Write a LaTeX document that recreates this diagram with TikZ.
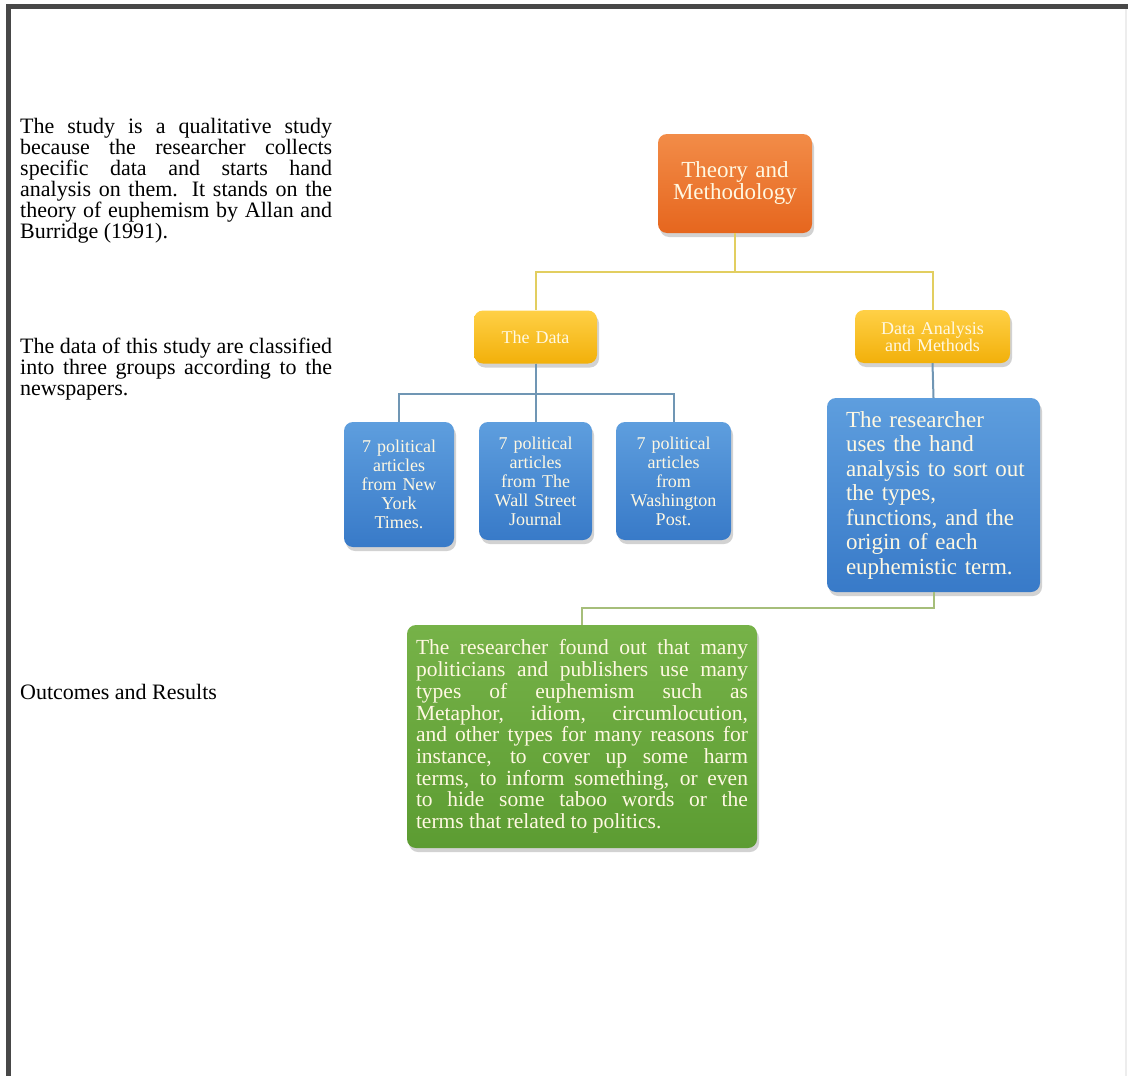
\documentclass[tikz,border=0pt]{standalone}
\usepackage{fontspec}
\setmainfont{Liberation Serif}
\usepackage{tikz}
\usetikzlibrary{shapes,shadows,positioning}
\definecolor{orangetop}{RGB}{242,140,72}
\definecolor{orangebot}{RGB}{230,102,30}
\definecolor{goldtop}{RGB}{255,208,70}
\definecolor{goldbot}{RGB}{242,176,10}
\definecolor{bluetop}{RGB}{94,158,222}
\definecolor{bluebot}{RGB}{56,122,200}
\definecolor{greentop}{RGB}{118,178,72}
\definecolor{greenbot}{RGB}{92,156,50}
\definecolor{boxtext}{RGB}{255,248,226}
\definecolor{linkgold}{RGB}{226,206,96}
\definecolor{linkblue}{RGB}{112,150,180}
\definecolor{linkgreen}{RGB}{166,190,122}
\definecolor{framegray}{RGB}{72,72,72}
\tikzstyle{box} = [rectangle, rounded corners=9pt, text=boxtext, drop shadow={shadow xshift=2pt, shadow yshift=-4pt, opacity=0.35}]
\tikzstyle{box_orange} = [box, top color=orangetop, bottom color=orangebot, text width=140pt, minimum height=99pt, inner sep=7pt, text centered, font=\fontsize{23}{22}\selectfont]
\tikzstyle{box_gold} = [box, top color=goldtop, bottom color=goldbot, minimum height=53pt, text centered, font=\fontsize{18}{17}\selectfont]
\tikzstyle{box_blue} = [box, top color=bluetop, bottom color=bluebot, text width=98pt, inner sep=6pt, minimum height=118pt, text centered, font=\fontsize{18}{19}\selectfont]
\tikzstyle{box_green} = [box, top color=greentop, bottom color=greenbot, text width=332pt, inner sep=9pt, minimum height=223pt, align=justify, font=\fontsize{21.5}{21.7}\selectfont]
\tikzstyle{side_text} = [anchor=north west, inner sep=0pt, text width=312pt, align=justify, font=\fontsize{22}{21}\selectfont]
\tikzstyle{link_gold} = [draw, line width=2pt, color=linkgold]
\tikzstyle{link_blue} = [draw, line width=2pt, color=linkblue]
\tikzstyle{link_green} = [draw, line width=2pt, color=linkgreen]
\begin{document}
\begin{tikzpicture}[x=1pt, y=1pt]
		\useasboundingbox (0,0) rectangle (1128,-1076);
		\fill [white] (0,0) rectangle (1128,-1076);
		\draw [line width=5pt, color=framegray] (8.5,-1076) -- (8.5,-6.5) -- (1128,-6.5);
		\draw [line width=2pt, color=black!7] (1126,-9) -- (1126,-1076);
		
		% left column
		\node [side_text] (study) at (20,-118) {The study is a qualitative study\linebreak because the researcher collects\linebreak specific data and starts hand\linebreak analysis on them. It stands on the\linebreak theory of euphemism by Allan and\linebreak Burridge (1991).};
		\node [side_text] (groups) at (20,-338) {The data of this study are classified\linebreak into three groups according to the\linebreak newspapers.};
		\node [side_text, text width=] (results) at (20,-684) {Outcomes and Results};
		
		% tree
		\node [box_orange] (theory) at (735,-183.5) {Theory and\\Methodology};
		\node [box_gold, below of = theory, node distance = 153.5pt, xshift = -199.5pt, text width=109pt, inner sep=7pt] (data) {The Data};
		\node [box_gold, below of = theory, node distance = 153pt, xshift = 197.5pt, text width=141pt, inner sep=7pt] (dam) {Data Analysis\\and Methods};
		
		\node [box_blue, below of = data, node distance = 144pt, text width=101pt] (wsj) {7 political\\articles\\from The\\Wall Street\\Journal};
		\node [box_blue, left of = wsj, node distance = 136.5pt, yshift = -3.5pt, minimum height=125pt] (nyt) {7 political\\articles\\from New\\York\\Times.};
		\node [box_blue, right of = wsj, node distance = 138pt, text width=103pt] (wp) {7 political\\articles\\from\\Washington\\Post.};
		
		\node [box, top color=bluetop, bottom color=bluebot, below of = dam, node distance = 158.5pt, xshift = 1pt, text width=187pt, inner xsep=13pt, minimum height=194pt, align=left, font=\fontsize{23}{24.5}\selectfont] (hand) {\hspace*{6pt}The researcher\\\hspace*{6pt}uses the hand\\\hspace*{6pt}analysis to sort out\\\hspace*{6pt}the types,\\\hspace*{6pt}functions, and the\\\hspace*{6pt}origin of each\\\hspace*{6pt}euphemistic term.};
		
		\node [box_green, below of = hand, node distance = 241.5pt, xshift = -351.5pt] (outcome) {The researcher found out that many\linebreak politicians and publishers use many\linebreak types of euphemism such as\linebreak Metaphor, idiom, circumlocution,\linebreak and other types for many reasons for\linebreak instance, to cover up some harm\linebreak terms, to inform something, or even\linebreak to hide some taboo words or the\linebreak terms that related to politics.};
		
		\path [link_gold] (theory.south) -- ++(0,-39) -| (data.north);
		\path [link_gold] (theory.south) -- ++(0,-39) -| (dam.north);
		\path [link_blue] (data.south) -- (wsj.north);
		\path [link_blue] (data.south) -- ++(0,-30) -| (nyt.north);
		\path [link_blue] (data.south) -- ++(0,-30) -| (wp.north);
		\path [link_blue] (dam.south) -- (hand.north);
		\path [link_green] (hand.south) -- ++(0,-16) -| (outcome.north);
		
	\end{tikzpicture}
\end{document}
